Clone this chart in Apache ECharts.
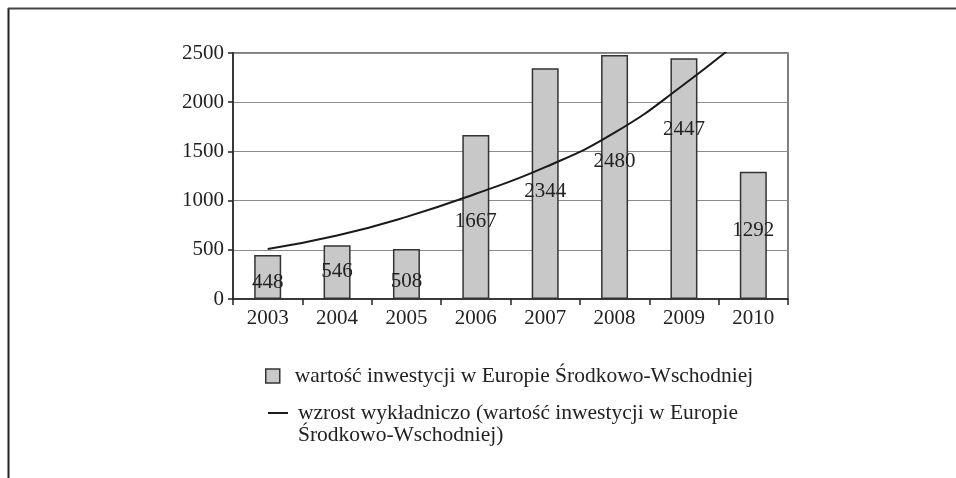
<!DOCTYPE html>
<html>
<head>
<meta charset="utf-8">
<script src="https://cdn.jsdelivr.net/npm/echarts@6/dist/echarts.min.js"></script>
<style>
html,body{margin:0;padding:0;background:#fff;}
#c{width:956px;height:478px;}
</style>
</head>
<body>
<div id="c"></div>
<script>
const categories = ['2003','2004','2005','2006','2007','2008','2009','2010'];
const investmentValues = [448, 546, 508, 1667, 2344, 2480, 2447, 1292];
const trendValues = [508, 645, 835, 1070, 1340, 1690, 2180, 2740];
const yTicks = [0, 500, 1000, 1500, 2000, 2500];
const barName = 'wartość inwestycji w Europie Środkowo-Wschodniej';
const trendLine1 = 'wzrost wykładniczo (wartość inwestycji w Europie';
const trendLine2 = 'Środkowo-Wschodniej)';
const trendName = trendLine1 + ' ' + trendLine2;
// label vertical nudges (style only)
const labelShift = [6, -1, 7, 5, 8, -15, -49, -5];

const FONT = '"Liberation Serif", "DejaVu Serif", serif';
const FS = 21;
const LFS = 21.5;
const chart = echarts.init(document.getElementById('c'), null, {renderer: 'canvas'});
chart.setOption({
  animation: false,
  backgroundColor: '#fff',
  graphic: [
    {type: 'line', shape: {x1: 8.5, y1: 8, x2: 8.5, y2: 478}, style: {stroke: '#222', lineWidth: 2}},
    {type: 'line', shape: {x1: 8, y1: 8.5, x2: 956, y2: 8.5}, style: {stroke: '#444', lineWidth: 2}},
    {type: 'text', left: 298, top: 424, style: {text: trendLine2, font: LFS + 'px ' + FONT, fill: '#222'}}
  ],
  grid: {left: 233, right: 168, top: 53, bottom: 179, show: true, borderColor: '#555', borderWidth: 1.5, backgroundColor: 'transparent'},
  legend: [
    {
      data: [barName], left: 260, top: 360, orient: 'vertical',
      icon: 'path://M0,0H14V14H0Z', itemWidth: 30, itemHeight: 14,
      itemStyle: {color: '#c8c8c9', borderColor: '#333', borderWidth: 1.5},
      textStyle: {fontFamily: FONT, fontSize: LFS, color: '#222', padding: [0, 0, 0, 2]}
    },
    {
      data: [trendName], left: 263, top: 397, orient: 'vertical',
      icon: 'path://M0,0H20V2H0Z', itemWidth: 20, itemHeight: 14,
      itemStyle: {color: '#1a1a1a', borderWidth: 0},
      formatter: () => trendLine1,
      textStyle: {fontFamily: FONT, fontSize: LFS, color: '#222', padding: [0, 0, 0, 5]}
    }
  ],
  xAxis: {
    type: 'category', data: categories,
    axisLine: {lineStyle: {color: '#222', width: 1.5}},
    axisTick: {show: true, length: 6, lineStyle: {color: '#222', width: 1.5}},
    axisLabel: {fontFamily: FONT, fontSize: FS, color: '#222', margin: 9},
    splitLine: {show: false}
  },
  yAxis: {
    type: 'value', min: yTicks[0], max: yTicks[yTicks.length - 1], interval: yTicks[1] - yTicks[0],
    axisLine: {show: true, lineStyle: {color: '#222', width: 1.5}},
    axisTick: {show: true, length: 5, lineStyle: {color: '#222', width: 1.5}},
    axisLabel: {fontFamily: FONT, fontSize: FS, color: '#222', margin: 9, formatter: v => String(v)},
    splitLine: {show: true, lineStyle: {color: '#8c8c8c', width: 1.2}}
  },
  series: [
    {
      name: barName, type: 'bar', barWidth: 27,
      itemStyle: {color: '#c8c8c9', borderColor: '#333', borderWidth: 1.5},
      data: investmentValues.map((v, i) => ({
        value: v,
        label: {show: true, position: 'inside', offset: [0, labelShift[i]]}
      })),
      label: {fontFamily: FONT, fontSize: FS, color: '#222'},
      z: 2
    },
    {
      name: trendName, type: 'line', data: trendValues, smooth: 0.5,
      symbol: 'none', clip: true,
      lineStyle: {color: '#1a1a1a', width: 2},
      itemStyle: {color: '#1a1a1a'},
      z: 3
    }
  ]
});
</script>
</body>
</html>
